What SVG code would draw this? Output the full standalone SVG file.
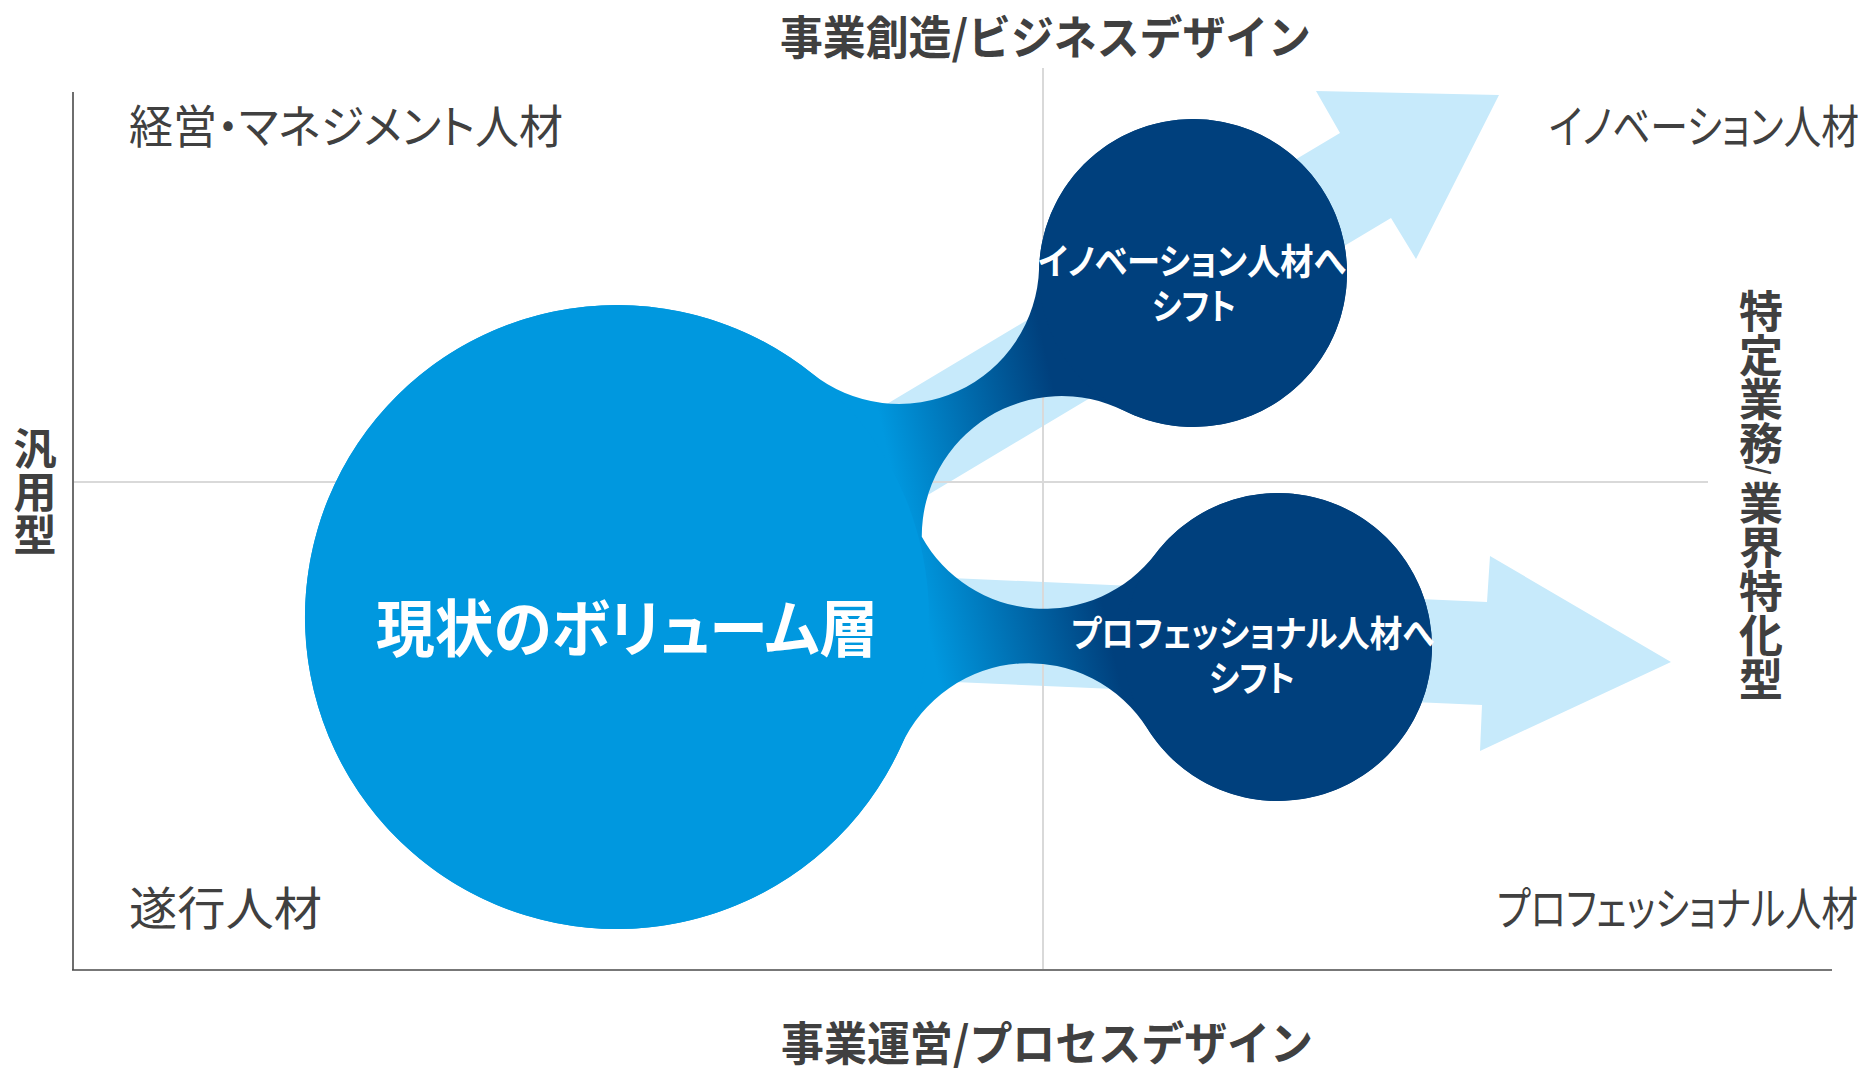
<svg xmlns="http://www.w3.org/2000/svg" width="1871" height="1068" viewBox="0 0 1871 1068">
  <style>
    .jp { font-family: "Noto Sans CJK JP", "Noto Sans CJK SC", sans-serif; }
    .axis-title { font-weight: 700; font-size: 46px; fill: #404040; }
    .quad { font-weight: 400; font-size: 46px; fill: #404040; font-feature-settings: "palt"; }
    .vert { font-weight: 700; fill: #404040; writing-mode: vertical-rl; }
    .ctext { font-weight: 700; font-size: 36px; fill: #FFFFFF; font-feature-settings: "palt"; }
    .main { font-weight: 700; font-size: 62px; fill: #FFFFFF; font-feature-settings: "palt"; }
    .grid { stroke: #D9D9D9; stroke-width: 2; fill: none; }
    .axis { stroke: #4A4A4A; stroke-width: 1.6; fill: none; }
    .arrow { fill: #C7EAFB; stroke: none; }
    .dark { fill: #00407D; }
    .light { fill: #0098DF; }
  </style>
  <defs>
    <linearGradient id="neckGrad" gradientUnits="userSpaceOnUse" x1="880" y1="420" x2="1052" y2="381">
      <stop offset="0" stop-color="#0098DF"/>
      <stop offset="1" stop-color="#00407D"/>
    </linearGradient>
  </defs>

  <rect x="0" y="0" width="1871" height="1068" fill="#FFFFFF"/>

  <!-- connectors: shift arrows -->
  <g id="connectors">
    <polygon id="arrow-innovation" class="arrow" points="814.6,447.3 1340,133 1316,91 1499,95 1416,259 1391,218 865.4,532.3"/>
    <polygon id="arrow-professional" class="arrow" points="850,573.4 1487,602 1490,556 1671,662 1480,751 1482,705 850,677.5"/>
  </g>

  <!-- grid and axes -->
  <g id="axes">
    <line class="grid" x1="74" y1="482" x2="1708" y2="482"/>
    <line class="grid" x1="1043" y1="68" x2="1043" y2="969"/>
    <line class="axis" x1="73" y1="92" x2="73" y2="970"/>
    <line class="axis" x1="72" y1="970" x2="1832" y2="970"/>
  </g>

  <!-- blob body with necks -->
  <g id="node-volume">
    <path fill="url(#neckGrad)" d="M 811.7 373.3 A 140 140 0 0 0 1039.1 268.2 A 154 154 0 1 1 1124.2 410.8 A 140 140 0 0 0 921.8 536.8 A 140 140 0 0 0 1155.5 553.7 A 154 154 0 1 1 1147.5 728.8 A 140 140 0 0 0 901.3 745.5 A 312 312 0 1 1 811.7 373.3 Z"/>
    <circle class="light" cx="617" cy="617" r="312"/>
    <text class="jp main" x="376" y="652" textLength="502" lengthAdjust="spacingAndGlyphs">現状のボリューム層</text>
  </g>

  <g id="node-innovation-shift">
    <circle class="dark" cx="1193" cy="273" r="154"/>
    <text class="jp ctext"><tspan x="1038" y="275" textLength="308" lengthAdjust="spacingAndGlyphs">イノベーション人材へ</tspan><tspan x="1152" y="320" textLength="84" lengthAdjust="spacingAndGlyphs">シフト</tspan></text>
  </g>

  <g id="node-professional-shift">
    <circle class="dark" cx="1278" cy="647" r="154"/>
    <text class="jp ctext"><tspan x="1071" y="647" textLength="363" lengthAdjust="spacingAndGlyphs">プロフェッショナル人材へ</tspan><tspan x="1209" y="692" textLength="86" lengthAdjust="spacingAndGlyphs">シフト</tspan></text>
  </g>

  <!-- axis titles -->
  <g id="axis-labels">
    <text class="jp axis-title" x="780" y="54" textLength="531" lengthAdjust="spacingAndGlyphs">事業創造/ビジネスデザイン</text>
    <text class="jp axis-title" x="781" y="1060" textLength="532" lengthAdjust="spacingAndGlyphs">事業運営/プロセスデザイン</text>
    <text id="label-general" class="jp vert" x="35" y="427" font-size="43">汎用型</text>
    <text id="label-specific" class="jp vert" x="1761" y="289" font-size="44">特定業務<tspan font-size="26">/ </tspan>業界特化型</text>
  </g>

  <!-- quadrant labels -->
  <g id="quadrant-labels">
    <text class="jp quad" x="129" y="143" textLength="434" lengthAdjust="spacingAndGlyphs">経営・マネジメント人材</text>
    <text class="jp quad" x="1549" y="143" textLength="310" lengthAdjust="spacingAndGlyphs">イノベーション人材</text>
    <text class="jp quad" x="129" y="925" textLength="193" lengthAdjust="spacingAndGlyphs">遂行人材</text>
    <text class="jp quad" x="1497" y="925" textLength="361" lengthAdjust="spacingAndGlyphs">プロフェッショナル人材</text>
  </g>
</svg>
